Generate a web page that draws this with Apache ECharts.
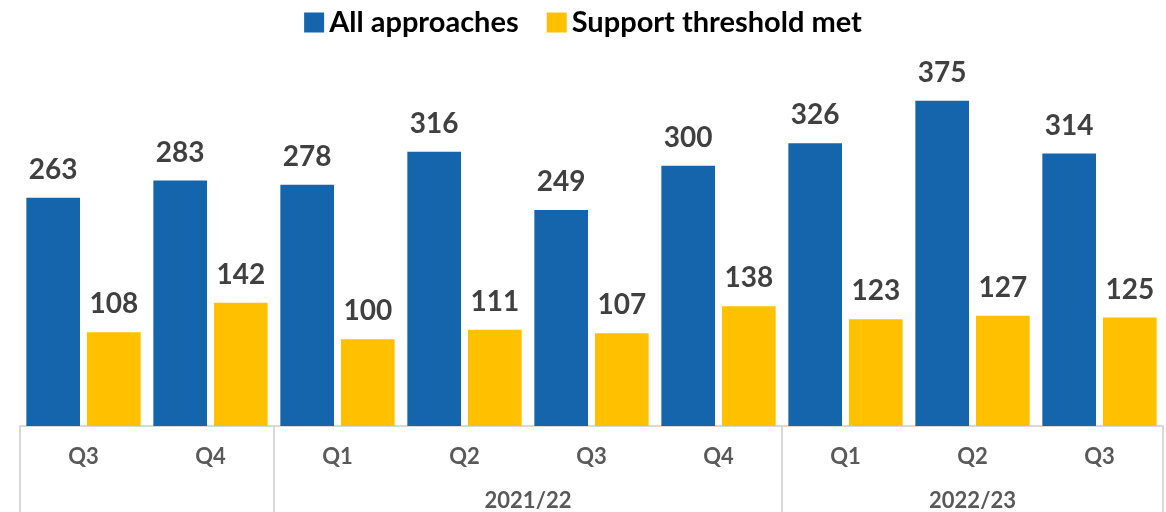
<!DOCTYPE html>
<html>
<head>
<meta charset="utf-8">
<script src="https://cdn.jsdelivr.net/npm/echarts@6/dist/echarts.min.js"></script>
<style>
html,body{margin:0;padding:0;background:#fff;}
#chart{width:1166px;height:512px;}
</style>
</head>
<body>
<div id="chart"></div>
<script>
const quarters = ['Q3','Q4','Q1','Q2','Q3','Q4','Q1','Q2','Q3'];
const quarterYears = ['2020/21','2020/21','2021/22','2021/22','2021/22','2021/22','2022/23','2022/23','2022/23'];
const yearLabels = {'2020/21':'', '2021/22':'2021/22', '2022/23':'2022/23'};
const allApproaches = [263,283,278,316,249,300,326,375,314];
const supportMet = [108,142,100,111,107,138,123,127,125];

// derive group boundaries and centres from quarterYears
const boundaries = [0];
const centres = [];
const centreNames = {};
let start = 0;
for (let i = 1; i <= quarterYears.length; i++) {
  if (i === quarterYears.length || quarterYears[i] !== quarterYears[start]) {
    boundaries.push(i);
    const c = (start + i) / 2;
    centres.push(c);
    centreNames[c] = yearLabels[quarterYears[start]];
    start = i;
  }
}

const FONT = 'Lato';
const chart = echarts.init(document.getElementById('chart'));
const labelStyle = {
  show: true, position: 'top', distance: 14,
  fontFamily: FONT, fontWeight: 'bold', fontSize: 28, color: '#404040'
};
chart.setOption({
  animation: false,
  legend: {
    top: 3, left: 'center', itemWidth: 20, itemHeight: 20, itemGap: 28,
    icon: 'rect',
    textStyle: {fontFamily: FONT, fontWeight: 'bold', fontSize: 29, color: '#000'}
  },
  grid: {left: 20, right: 3, top: 79, bottom: 85, containLabel: false},
  xAxis: [{
    type: 'category', data: quarters, position: 'bottom',
    axisLine: {show: true, lineStyle: {color: '#d9d9d9', width: 2}},
    axisTick: {show: false},
    axisLabel: {margin: 20, fontFamily: FONT, fontWeight: 'bold', fontSize: 22, color: '#595959'}
  }, {
    type: 'value', min: 0, max: quarters.length, position: 'bottom',
    axisLine: {show: false},
    splitLine: {show: false},
    axisTick: {show: true, customValues: boundaries, length: 90, lineStyle: {color: '#d9d9d9', width: 2}},
    axisLabel: {show: true, customValues: centres, margin: 64,
      formatter: v => centreNames[v] || '',
      fontFamily: FONT, fontWeight: 'bold', fontSize: 22, color: '#595959'}
  }],
  yAxis: {type: 'value', min: 0, max: 400, show: false, splitLine: {show: false}},
  series: [{
    name: 'All approaches', type: 'bar', data: allApproaches, xAxisIndex: 0,
    itemStyle: {color: '#1565AC'}, barGap: '13%', barCategoryGap: '10%',
    label: labelStyle
  }, {
    name: 'Support threshold met', type: 'bar', data: supportMet, xAxisIndex: 0,
    itemStyle: {color: '#FFC000'}, barGap: '13%', barCategoryGap: '10%',
    label: labelStyle
  }]
});
</script>
</body>
</html>
